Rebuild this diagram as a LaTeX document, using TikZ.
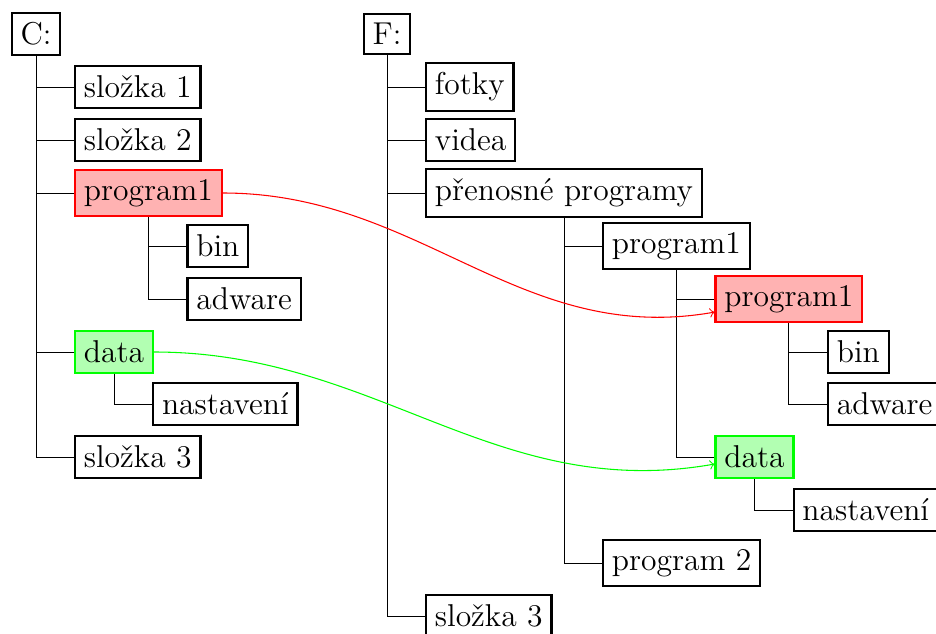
\documentclass[tikz,border=0pt]{standalone}
\usepackage{fontspec}
\usetikzlibrary{arrows}
\begin{document}
\begin{tikzpicture}[x=0.375pt,y=-0.375pt,
  box/.style={draw,line width=0.8pt,font=\fontsize{11.85}{14}\selectfont,inner xsep=0.3333em,inner ysep=0.36em},
  redbox/.style={box,draw=red,fill=red!30},
  greenbox/.style={box,draw=green,fill=green!30},
  edge/.style={draw,line width=0.35pt},
  link/.style={line width=0.4pt,->}]
\useasboundingbox (0,0) rectangle (936,633);
% left tree
\node[box] (C) at (36,34) {C:};
\node[box,anchor=west] (s1) at (C.south |- 0,87) [xshift=14.25pt] {složka 1};
\node[box,anchor=west] (s2) at (C.south |- 0,140) [xshift=14.25pt] {složka 2};
\node[redbox,anchor=west] (p1) at (C.south |- 0,193) [xshift=14.25pt] {program1};
\node[box,anchor=west] (b1) at (p1.south |- 0,246) [xshift=14.25pt] {bin};
\node[box,anchor=west] (a1) at (p1.south |- 0,299) [xshift=14.25pt] {adware};
\node[greenbox,anchor=west] (d1) at (C.south |- 0,352) [xshift=14.25pt] {data};
\node[box,anchor=west] (n1) at (d1.south |- 0,404) [xshift=14.25pt] {nastavení};
\node[box,anchor=west] (s3) at (C.south |- 0,457) [xshift=14.25pt] {složka 3};
\draw[edge] (C.south) |- (s1.west);
\draw[edge] (C.south) |- (s2.west);
\draw[edge] (C.south) |- (p1.west);
\draw[edge] (C.south) |- (d1.west);
\draw[edge] (C.south) |- (s3.west);
\draw[edge] (p1.south) |- (b1.west);
\draw[edge] (p1.south) |- (a1.west);
\draw[edge] (d1.south) |- (n1.west);
% right tree
\node[box] (F) at (387,34) {F:};
\node[box,anchor=west] (fo) at (F.south |- 0,87) [xshift=14.25pt] {fotky};
\node[box,anchor=west] (vi) at (F.south |- 0,140) [xshift=14.25pt] {videa};
\node[box,anchor=west] (pp) at (F.south |- 0,193) [xshift=14.25pt] {přenosné programy};
\node[box,anchor=west] (pw) at (pp.south |- 0,246) [xshift=14.25pt] {program1};
\node[redbox,anchor=west] (p2) at (pw.south |- 0,299) [xshift=14.25pt] {program1};
\node[box,anchor=west] (b2) at (p2.south |- 0,352) [xshift=14.25pt] {bin};
\node[box,anchor=west] (a2) at (p2.south |- 0,404) [xshift=14.25pt] {adware};
\node[greenbox,anchor=west] (d2) at (pw.south |- 0,457) [xshift=14.25pt] {data};
\node[box,anchor=west] (n2) at (d2.south |- 0,510) [xshift=14.25pt] {nastavení};
\node[box,anchor=west] (pg) at (pp.south |- 0,563) [xshift=14.25pt] {program 2};
\node[box,anchor=west] (s4) at (F.south |- 0,616) [xshift=14.25pt] {složka 3};
\draw[edge] (F.south) |- (fo.west);
\draw[edge] (F.south) |- (vi.west);
\draw[edge] (F.south) |- (pp.west);
\draw[edge] (F.south) |- (s4.west);
\draw[edge] (pp.south) |- (pw.west);
\draw[edge] (pp.south) |- (pg.west);
\draw[edge] (pw.south) |- (p2.west);
\draw[edge] (pw.south) |- (d2.west);
\draw[edge] (p2.south) |- (b2.west);
\draw[edge] (p2.south) |- (a2.west);
\draw[edge] (d2.south) |- (n2.west);
% links
\draw[link,red] (p1.east) to[out=0,in=190] (p2);
\draw[link,green] (d1.east) to[out=0,in=190] (d2);
\end{tikzpicture}
\end{document}
